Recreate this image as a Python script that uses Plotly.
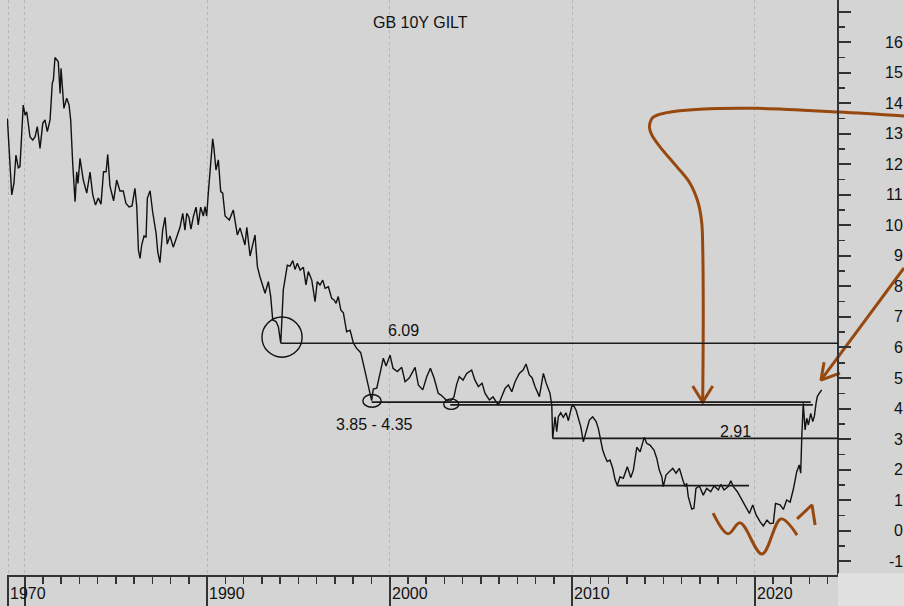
import plotly.graph_objects as go

# ---------------- data ----------------
# GB 10Y gilt yield: decimal year, yield in %
YEARS = [
    1979.06, 1979.30, 1979.42, 1979.53, 1979.66, 1979.75, 1979.93, 1980.03, 1980.12, 1980.30,
    1980.45, 1980.58, 1980.70, 1980.85, 1981.00, 1981.12, 1981.25, 1981.40, 1981.52, 1981.58,
    1981.67, 1981.85, 1981.95, 1982.00, 1982.16, 1982.31, 1982.44, 1982.53, 1982.64, 1982.77,
    1982.86, 1982.93, 1983.04, 1983.22, 1983.41, 1983.59, 1983.74, 1983.89, 1984.04, 1984.19,
    1984.33, 1984.47, 1984.56, 1984.68, 1984.88, 1985.05, 1985.23, 1985.41, 1985.56, 1985.73,
    1985.89, 1986.05, 1986.15, 1986.24, 1986.33, 1986.42, 1986.55, 1986.66, 1986.73, 1986.88,
    1987.02, 1987.21, 1987.30, 1987.42, 1987.57, 1987.70, 1987.82, 1987.97, 1988.15, 1988.34,
    1988.52, 1988.67, 1988.79, 1988.89, 1989.01, 1989.12, 1989.25, 1989.40, 1989.52, 1989.65,
    1989.80, 1989.89, 1989.98, 1990.07, 1990.20, 1990.31, 1990.38, 1990.49, 1990.62, 1990.75,
    1990.86, 1990.99, 1991.22, 1991.44, 1991.66, 1991.81, 1991.96, 1992.08, 1992.18, 1992.36,
    1992.63, 1992.76, 1992.90, 1993.05, 1993.18, 1993.36, 1993.49, 1993.60, 1993.78, 1993.91,
    1994.04, 1994.18, 1994.40, 1994.55, 1994.70, 1994.82, 1994.95, 1995.10, 1995.28, 1995.42,
    1995.55, 1995.74, 1995.92, 1996.04, 1996.19, 1996.34, 1996.47, 1996.65, 1996.83, 1996.96,
    1997.07, 1997.19, 1997.33, 1997.47, 1997.65, 1997.84, 1998.02, 1998.20, 1998.42, 1998.56,
    1998.75, 1998.93, 1999.02, 1999.11, 1999.30, 1999.52, 1999.66, 1999.81, 2000.03, 2000.19,
    2000.43, 2000.67, 2000.85, 2001.08, 2001.40, 2001.58, 2001.82, 2002.04, 2002.24, 2002.44,
    2002.67, 2002.82, 2002.99, 2003.15, 2003.35, 2003.53, 2003.68, 2003.82, 2004.03, 2004.23,
    2004.50, 2004.68, 2004.87, 2005.07, 2005.23, 2005.47, 2005.67, 2005.96, 2006.15, 2006.33,
    2006.51, 2006.70, 2006.88, 2007.11, 2007.32, 2007.48, 2007.66, 2007.81, 2007.97, 2008.21,
    2008.43, 2008.58, 2008.79, 2008.89, 2008.94, 2009.07, 2009.16, 2009.25, 2009.38, 2009.52,
    2009.67, 2009.80, 2009.98, 2010.07, 2010.22, 2010.35, 2010.48, 2010.62, 2010.77, 2010.95,
    2011.13, 2011.32, 2011.44, 2011.53, 2011.68, 2011.81, 2011.93, 2012.08, 2012.23, 2012.36,
    2012.48, 2012.63, 2012.81, 2013.03, 2013.22, 2013.36, 2013.55, 2013.73, 2013.96, 2014.09,
    2014.27, 2014.49, 2014.64, 2014.78, 2014.92, 2015.00, 2015.15, 2015.33, 2015.52, 2015.70,
    2015.88, 2016.07, 2016.19, 2016.28, 2016.37, 2016.56, 2016.68, 2016.79, 2016.98, 2017.19,
    2017.38, 2017.60, 2017.78, 2018.02, 2018.15, 2018.33, 2018.56, 2018.70, 2018.84, 2019.06,
    2019.21, 2019.39, 2019.57, 2019.72, 2019.90, 2020.08, 2020.30, 2020.48, 2020.68, 2020.85,
    2021.03, 2021.15, 2021.40, 2021.58, 2021.76, 2021.95, 2022.13, 2022.31, 2022.45, 2022.53,
    2022.59, 2022.67, 2022.77, 2022.86, 2022.95, 2023.08, 2023.19, 2023.28, 2023.37, 2023.44,
    2023.55, 2023.68,
]
YIELDS = [
    13.51, 11.00, 11.39, 12.31, 11.89, 11.93, 13.95, 13.62, 13.73, 12.91,
    12.80, 12.91, 13.24, 12.53, 13.35, 13.46, 13.08, 13.46, 14.66, 14.77,
    15.51, 15.37, 14.33, 15.15, 13.84, 14.17, 13.95, 13.46, 12.04, 10.78,
    11.76, 11.38, 12.20, 11.49, 11.06, 11.75, 11.00, 10.67, 10.90, 10.70,
    11.76, 11.76, 12.33, 11.30, 10.81, 11.49, 11.13, 11.13, 10.72, 10.61,
    10.64, 11.22, 10.62, 9.20, 8.92, 9.36, 9.66, 9.61, 10.89, 11.14,
    10.45, 9.74, 9.14, 8.78, 9.85, 10.27, 9.39, 9.66, 9.29, 9.63,
    9.94, 10.40, 9.85, 10.40, 10.27, 9.88, 10.29, 10.60, 10.02, 10.60,
    10.31, 10.62, 10.31, 11.06, 12.04, 12.84, 12.53, 11.82, 12.15, 11.11,
    11.06, 10.31, 10.18, 10.51, 9.69, 9.92, 9.61, 9.36, 9.94, 9.00,
    9.69, 8.65, 8.32, 7.99, 7.78, 8.16, 7.67, 6.90, 6.85, 6.68,
    6.14, 7.89, 8.70, 8.67, 8.85, 8.56, 8.76, 8.54, 8.63, 8.05,
    8.49, 8.21, 7.50, 8.16, 8.05, 8.21, 7.94, 7.99, 7.61, 7.56,
    7.45, 7.67, 7.23, 7.14, 6.52, 6.57, 6.14, 5.97, 5.83, 5.48,
    4.99, 4.44, 4.26, 4.64, 4.67, 5.26, 5.65, 5.39, 5.75, 5.32,
    5.21, 5.35, 4.88, 5.00, 5.35, 4.77, 4.61, 5.04, 5.32, 5.00,
    4.50, 4.44, 4.33, 4.25, 4.25, 4.38, 4.80, 5.04, 4.93, 5.15,
    5.26, 4.93, 4.72, 4.83, 4.50, 4.28, 4.38, 4.11, 4.39, 4.66,
    4.77, 4.55, 4.88, 5.15, 5.26, 5.46, 5.10, 5.01, 4.72, 4.39,
    5.15, 4.84, 4.50, 4.11, 3.02, 3.73, 3.24, 3.73, 3.86, 3.71,
    3.86, 3.60, 4.06, 4.11, 3.95, 3.68, 3.40, 2.91, 3.24, 3.62,
    3.73, 3.57, 3.35, 3.08, 2.64, 2.42, 2.26, 2.31, 2.04, 1.66,
    1.48, 1.76, 1.71, 2.09, 1.74, 1.98, 2.73, 2.58, 3.06, 2.86,
    2.80, 2.64, 2.37, 1.98, 1.76, 1.44, 1.82, 1.93, 2.04, 1.88,
    2.04, 1.66, 1.44, 1.55, 1.11, 0.70, 0.73, 1.38, 1.46, 1.16,
    1.38, 1.27, 1.46, 1.33, 1.51, 1.33, 1.44, 1.63, 1.44, 1.27,
    1.11, 0.93, 0.77, 0.56, 0.84, 0.52, 0.29, 0.15, 0.34, 0.23,
    0.24, 0.89, 0.84, 0.69, 1.00, 0.93, 1.36, 1.92, 2.15, 1.88,
    3.08, 4.17, 3.30, 3.68, 3.46, 3.84, 3.57, 3.75, 4.17, 4.39,
    4.50, 4.61,
]

# axis ticks / labels
X_MAJOR_TICKS = [1979.1, 1980, 1990, 2000, 2010, 2020]
X_LABEL_YEARS = [1979.1, 1990, 2000, 2010, 2020]
X_LABELS = ["1970", "1990", "2000", "2010", "2020"]
X_MINOR_TICKS = [y for y in range(1981, 2025) if y % 10 != 0]
Y_LABELS = list(range(-1, 17))

# horizontal levels drawn on the chart
LEVEL_VALUES = [6.14, 4.21, 4.12, 3.02, 1.47]
LEVEL_STARTS = [1994.04, 1999.02, 2003.33, 2008.94, 2012.45]
LEVEL_ENDS = [2024.58, 2023.08, 2023.20, 2024.58, 2019.70]

# level labels
LABEL_TEXTS = ["6.09", "3.85 - 4.35", "2.91"]
LABEL_YEARS = [2000.74, 1999.15, 2018.93]
LABEL_VALUES = [6.57, 3.46, 3.23]

# circled lows: centre year, centre value, half-width (years), half-height (%)
CIRCLE_YEARS = [1994.11, 1999.04, 2003.38]
CIRCLE_VALUES = [6.34, 4.25, 4.14]
CIRCLE_HALF_W = [1.10, 0.50, 0.41]
CIRCLE_HALF_H = [0.66, 0.21, 0.17]

# hand-drawn brown strokes (year, value)
HOOK_YEARS = [2028.19, 2024.59, 2020.12, 2017.01, 2015.19, 2014.45, 2014.24, 2014.37,
              2014.82, 2015.74, 2016.47, 2016.92, 2017.11, 2017.16, 2017.19, 2017.16]
HOOK_VALUES = [13.59, 13.72, 13.84, 13.81, 13.70, 13.55, 13.24, 12.97,
               12.58, 11.93, 11.38, 10.73, 10.07, 9.30, 7.12, 4.22]
HOOK_HEAD_YEARS = [2016.61, 2017.16, 2017.71]
HOOK_HEAD_VALUES = [4.74, 4.21, 4.74]
DIAG_YEARS = [2028.19, 2023.64]
DIAG_VALUES = [8.61, 4.93]
DIAG_HEAD_YEARS = [2023.81, 2023.64, 2024.68]
DIAG_HEAD_VALUES = [5.52, 4.93, 5.16]
WAVE_YEARS = [2017.73, 2018.55, 2019.21, 2020.41, 2021.45, 2022.33]
WAVE_VALUES = [0.57, -0.11, 0.25, -0.77, 0.38, -0.15]
WAVE_HEAD_YEARS = [2022.33, 2023.15, 2023.32]
WAVE_HEAD_VALUES = [0.38, 0.84, 0.18]

TITLE = "GB 10Y GILT"
TITLE_YEAR, TITLE_VALUE = 2001.67, 16.64

# ---------------- styling ----------------
BG = "#d4d4d4"
CORNER = "#e1e1e1"
AX = "#333333"
BROWN = "#97480f"
FONT = "Liberation Sans, Arial, Helvetica, sans-serif"
X_RANGE = [1979.04, 2028.19]
Y_RANGE = [-1.459, 17.393]
AXIS_POS = 0.9264  # right value axis position (fraction of plot width)

fig = go.Figure()

fig.add_trace(go.Scatter(x=YEARS, y=YIELDS, mode="lines",
                         line=dict(color="#111111", width=1.4), hoverinfo="skip"))

for lv, x0, x1 in zip(LEVEL_VALUES, LEVEL_STARTS, LEVEL_ENDS):
    fig.add_shape(type="line", xref="x", yref="y", x0=x0, x1=x1, y0=lv, y1=lv,
                  line=dict(color="#1a1a1a", width=1.6))

for cx, cy, hw, hh in zip(CIRCLE_YEARS, CIRCLE_VALUES, CIRCLE_HALF_W, CIRCLE_HALF_H):
    fig.add_shape(type="circle", xref="x", yref="y", x0=cx - hw, x1=cx + hw,
                  y0=cy - hh, y1=cy + hh, line=dict(color="#111111", width=1.4))

strokes = [
    (HOOK_YEARS, HOOK_VALUES, "spline"),
    (HOOK_HEAD_YEARS, HOOK_HEAD_VALUES, "linear"),
    (DIAG_YEARS, DIAG_VALUES, "linear"),
    (DIAG_HEAD_YEARS, DIAG_HEAD_VALUES, "linear"),
    (WAVE_YEARS, WAVE_VALUES, "spline"),
    (WAVE_HEAD_YEARS, WAVE_HEAD_VALUES, "linear"),
]
for xs, ys, shp in strokes:
    fig.add_trace(go.Scatter(x=xs, y=ys, mode="lines", hoverinfo="skip",
                             line=dict(color=BROWN, width=3, shape=shp)))

# lighter corner below the value axis
fig.add_shape(type="rect", xref="paper", yref="paper", x0=AXIS_POS, x1=1.0,
              y0=-0.06, y1=0.003, fillcolor=CORNER, line=dict(width=0), layer="above")

annotations = []
for t, xv, yv in zip(LABEL_TEXTS, LABEL_YEARS, LABEL_VALUES):
    annotations.append(dict(text=t, x=xv, y=yv, xref="x", yref="y", showarrow=False,
                            font=dict(family=FONT, size=16, color="#111111")))
annotations.append(dict(text=TITLE, x=TITLE_YEAR, y=TITLE_VALUE, xref="x", yref="y",
                        showarrow=False, font=dict(family=FONT, size=16, color="#111111")))
for t, xv in zip(X_LABELS, X_LABEL_YEARS):
    annotations.append(dict(text=t, x=xv, y=0, xref="x", yref="paper", xanchor="left",
                            yanchor="middle", yshift=-18, showarrow=False,
                            font=dict(family=FONT, size=16, color="#111111")))
for v in Y_LABELS:
    annotations.append(dict(text=str(v), x=1.0, y=v, xref="paper", yref="y",
                            xanchor="right", yanchor="middle", xshift=1, showarrow=False,
                            font=dict(family=FONT, size=16, color="#111111")))

fig.update_layout(
    width=904, height=606,
    margin=dict(l=7, r=0, t=0, b=31),
    paper_bgcolor=BG, plot_bgcolor=BG,
    showlegend=False, hovermode=False,
    annotations=annotations,
    xaxis=dict(
        range=X_RANGE, tickmode="array", tickvals=X_MAJOR_TICKS,
        ticks="outside", ticklen=31, tickwidth=2, tickcolor=AX,
        showticklabels=False, showline=True, linecolor=AX, linewidth=2,
        showgrid=True, gridcolor="#b5b5b5", griddash="dot", gridwidth=1,
        zeroline=False, fixedrange=True,
        minor=dict(tickmode="array", tickvals=X_MINOR_TICKS, ticks="outside",
                   ticklen=7, tickwidth=1.5, tickcolor=AX, showgrid=False),
    ),
    yaxis=dict(
        range=Y_RANGE, side="right", anchor="free", position=AXIS_POS,
        tickmode="linear", tick0=0, dtick=1,
        ticks="outside", ticklen=12, tickwidth=2, tickcolor=AX,
        showticklabels=False, showline=True, linecolor=AX, linewidth=2,
        showgrid=False, zeroline=False, fixedrange=True,
        minor=dict(tick0=0, dtick=0.5, ticks="outside", ticklen=6,
                   tickwidth=1.5, tickcolor=AX, showgrid=False),
    ),
)

fig.write_html(
    "out.html",
    config={"displayModeBar": False, "staticPlot": True},
    post_script="document.body.style.margin='0';document.body.style.padding='0';"
                "document.body.style.background='" + BG + "';",
)
